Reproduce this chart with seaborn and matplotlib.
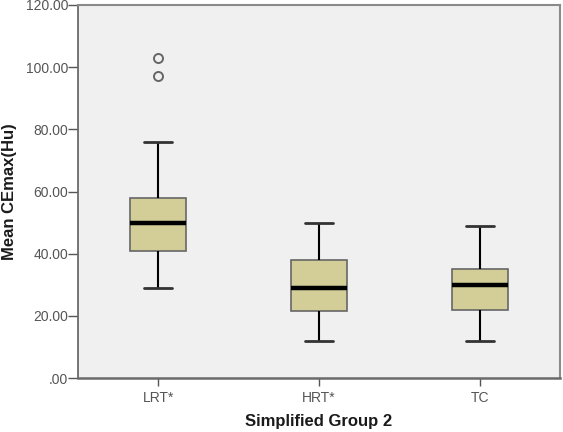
import matplotlib
matplotlib.use("Agg")
import matplotlib.pyplot as plt
import pandas as pd
import seaborn as sns

GROUPS = ["LRT*", "HRT*", "TC"]
# values per group, chosen so that the quartiles / whiskers / outliers match the picture
LRT_VALUES = [29, 35, 39, 41, 44, 47, 50, 53, 56, 58, 76, 97, 103]
HRT_VALUES = [12, 18, 21.6, 25, 29, 33, 38, 44, 50]
TC_VALUES = [12, 18, 22, 26, 30, 32, 35, 42, 49]

Y_TICKS = [0, 20, 40, 60, 80, 100, 120]
Y_TICK_LABELS = [".00", "20.00", "40.00", "60.00", "80.00", "100.00", "120.00"]

X_LABEL = "Simplified Group 2"
Y_LABEL = "Mean CEmax(Hu)"


def main() -> None:
    df = pd.DataFrame(
        {
            "group": ["LRT*"] * len(LRT_VALUES) + ["HRT*"] * len(HRT_VALUES) + ["TC"] * len(TC_VALUES),
            "value": LRT_VALUES + HRT_VALUES + TC_VALUES,
        }
    )

    sns.set_style("white")
    plt.rcParams["font.family"] = ["Liberation Sans", "DejaVu Sans"]

    fig, ax = plt.subplots(figsize=(5.63, 4.32), dpi=100)
    fig.subplots_adjust(left=78 / 563, right=560 / 563, top=1 - 5 / 432, bottom=1 - 378 / 432)
    ax.set_facecolor("#f0f0f0")

    sns.boxplot(
        data=df,
        x="group",
        y="value",
        order=GROUPS,
        width=0.35,
        color="#d3ce97",
        saturation=1,
        linecolor="#555555",
        linewidth=1.2,
        whiskerprops={"color": "black", "linewidth": 1.5},
        capprops={"color": "#333333", "linewidth": 2},
        medianprops={"color": "black", "linewidth": 3.2},
        flierprops={
            "marker": "o",
            "markersize": 6.5,
            "markerfacecolor": "none",
            "markeredgecolor": "#666666",
            "markeredgewidth": 1.4,
        },
        ax=ax,
    )

    # box fill / edge like SPSS
    for patch in ax.patches:
        patch.set_facecolor("#d3ce97")
        patch.set_edgecolor("#666666")

    ax.set_ylim(0, 120)
    ax.set_xlim(-0.5, 2.5)
    ax.set_yticks(Y_TICKS)
    ax.set_yticklabels(Y_TICK_LABELS)

    ax.set_xlabel(X_LABEL, fontsize=12, fontweight="bold", labelpad=7, color="#1a1a1a")
    ax.set_ylabel(Y_LABEL, fontsize=12, fontweight="bold", labelpad=6, color="#1a1a1a")

    for side in ["left", "bottom", "top", "right"]:
        ax.spines[side].set_visible(True)
        ax.spines[side].set_color("#6a6a6a")
        ax.spines[side].set_linewidth(1.0)
    ax.spines["bottom"].set_linewidth(1.8)
    ax.spines["left"].set_linewidth(1.3)
    ax.spines["top"].set_color("#8a8a8a")
    ax.spines["right"].set_color("#8a8a8a")
    ax.spines["top"].set_linewidth(1.5)
    ax.spines["right"].set_linewidth(1.5)

    ax.tick_params(axis="y", length=7, width=1, color="#555555", labelcolor="#555555", labelsize=10, pad=0)
    ax.tick_params(axis="x", length=6, width=1, color="#555555", labelcolor="#555555", labelsize=10, pad=3, bottom=True)
    ax.tick_params(axis="y", left=True)

    fig.savefig("out.png", dpi=100)


if __name__ == "__main__":
    main()
